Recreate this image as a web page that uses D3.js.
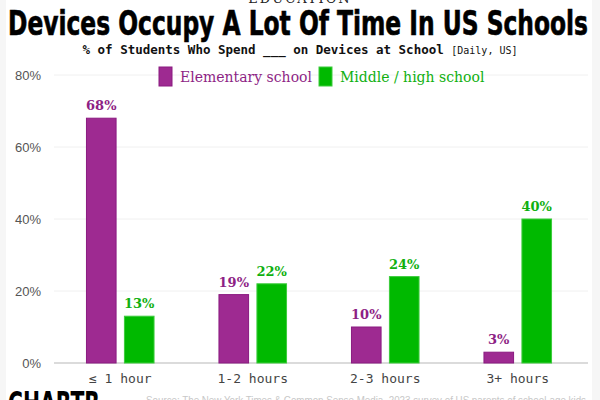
<!DOCTYPE html>
<html>
<head>
<meta charset="utf-8">
<script src="https://cdn.jsdelivr.net/npm/d3@7"></script>
<style>
  body { margin: 0; background: #f6f6f6; }
  svg { display: block; }
</style>
</head>
<body>
<svg id="chart" width="600" height="400"></svg>
<script>
// data
var categories = ["≤ 1 hour", "1-2 hours", "2-3 hours", "3+ hours"];
var seriesNames = ["Elementary school", "Middle / high school"];
var elementary = [68, 19, 10, 3];
var middleHigh = [13, 22, 24, 40];
var yTicks = [0, 20, 40, 60, 80];

var fills = ["#9e2a91", "#00b900"];
var strokes = ["#8a1a80", "#3ccc3c"];
var textCols = ["#8e1f85", "#10b010"];

var svg = d3.select("#chart");

// white panel, grey strips at the sides
svg.append("rect").attr("x", 6).attr("y", 0).attr("width", 586).attr("height", 400).attr("fill", "#fff");

// turn the columns into rows
var rows = categories.map(function(c, i){
    return {cat: c, vals: [elementary[i], middleHigh[i]]};
});

var x = d3.scaleBand().domain(categories).range([54, 584]).paddingInner(0.49).paddingOuter(0.245);
var x1 = d3.scaleBand().domain([0, 1]).range([0, x.bandwidth()]).paddingInner(0.22);
var y = d3.scaleLinear().domain([0, 80]).range([363, 75]);

// gridlines
svg.append("g").selectAll("line")
    .data(yTicks)
    .enter().append("line")
    .attr("x1", 54).attr("x2", 588)
    .attr("y1", function(d){ return y(d); })
    .attr("y2", function(d){ return y(d); })
    .attr("stroke", function(d){ return d == 0 ? "#cfcfcf" : "#f0f0f0"; })
    .attr("stroke-width", function(d){ return d == 0 ? 1.5 : 1; });

// y axis labels
var yAxis = d3.axisLeft(y).tickValues(yTicks).tickSize(0).tickPadding(0)
    .tickFormat(function(d){ return d + "%"; });
var gy = svg.append("g").attr("transform", "translate(41,0)").call(yAxis);
gy.select(".domain").remove();
gy.selectAll("text")
    .attr("font-family", "Liberation Sans, Arial, sans-serif")
    .attr("font-size", 13)
    .attr("fill", "#555");

// x axis labels
var xAxis = d3.axisBottom(x).tickSize(0).tickPadding(0);
var gx = svg.append("g").attr("transform", "translate(0,374)").call(xAxis);
gx.select(".domain").remove();
gx.selectAll("text")
    .attr("font-family", "DejaVu Sans Mono, monospace")
    .attr("font-size", 13)
    .attr("fill", "#444");

// bars
var groups = svg.append("g").selectAll(".grp")
    .data(rows)
    .enter().append("g")
    .attr("class", "grp")
    .attr("transform", function(d){ return "translate(" + x(d.cat) + ",0)"; });

groups.selectAll("rect")
    .data(function(d){ return d.vals; })
    .enter().append("rect")
    .attr("x", function(d, i){ return x1(i); })
    .attr("y", function(d){ return y(d); })
    .attr("width", x1.bandwidth())
    .attr("height", function(d){ return y(0) - y(d); })
    .attr("fill", function(d, i){ return fills[i]; })
    .attr("stroke", function(d, i){ return strokes[i]; })
    .attr("stroke-width", 1);

groups.selectAll("text")
    .data(function(d){ return d.vals; })
    .enter().append("text")
    .attr("x", function(d, i){ return x1(i) + x1.bandwidth() / 2; })
    .attr("y", function(d){ return y(d) - 8; })
    .attr("text-anchor", "middle")
    .attr("font-family", "DejaVu Serif, Georgia, serif")
    .attr("font-weight", "bold")
    .attr("font-size", 13)
    .attr("fill", function(d, i){ return textCols[i]; })
    .text(function(d){ return d + "%"; });

// legend
var legX = [159, 319];
var leg = svg.append("g").selectAll("g")
    .data(seriesNames)
    .enter().append("g")
    .attr("transform", function(d, i){ return "translate(" + legX[i] + ",67)"; });
leg.append("rect")
    .attr("width", 13).attr("height", 19)
    .attr("fill", function(d, i){ return fills[i]; })
    .attr("stroke", function(d, i){ return strokes[i]; });
leg.append("text")
    .attr("x", 21).attr("y", 15)
    .attr("font-family", "DejaVu Serif, Georgia, serif")
    .attr("font-size", 14)
    .attr("fill", function(d, i){ return textCols[i]; })
    .text(function(d){ return d; });

// titles
svg.append("text")
    .attr("x", 300).attr("y", 3)
    .attr("text-anchor", "middle")
    .attr("font-family", "DejaVu Serif, serif")
    .attr("font-size", 13)
    .attr("letter-spacing", 2)
    .attr("fill", "#222")
    .text("EDUCATION");

svg.append("text")
    .attr("x", 8).attr("y", 35)
    .attr("textLength", 580)
    .attr("lengthAdjust", "spacingAndGlyphs")
    .attr("font-family", "Liberation Sans Narrow, DejaVu Sans Condensed, Arial Narrow, sans-serif")
    .attr("font-weight", "bold")
    .attr("font-size", 33)
    .attr("stroke", "#000")
    .attr("stroke-width", 0.6)
    .attr("fill", "#000")
    .text("Devices Occupy A Lot Of Time In US Schools");

var sub = svg.append("text")
    .attr("x", 300).attr("y", 54)
    .attr("text-anchor", "middle")
    .attr("font-family", "DejaVu Sans Mono, monospace")
    .attr("fill", "#111");
sub.append("tspan")
    .attr("font-weight", "bold")
    .attr("font-size", 12.5)
    .text("% of Students Who Spend ___ on Devices at School ");
sub.append("tspan")
    .attr("font-size", 10)
    .text("[Daily, US]");

// footer
svg.append("text")
    .attr("x", 8).attr("y", 414)
    .attr("textLength", 92)
    .attr("lengthAdjust", "spacingAndGlyphs")
    .attr("font-family", "Liberation Sans Narrow, DejaVu Sans Condensed, sans-serif")
    .attr("font-weight", "bold")
    .attr("font-size", 32)
    .attr("fill", "#000")
    .text("CHARTR");

svg.append("text")
    .attr("x", 146).attr("y", 404)
    .attr("textLength", 440)
    .attr("lengthAdjust", "spacingAndGlyphs")
    .attr("font-family", "Liberation Sans, Arial, sans-serif")
    .attr("font-size", 10)
    .attr("fill", "#c8c8c8")
    .text("Source: The New York Times & Common Sense Media, 2023 survey of US parents of school-age kids");
</script>
</body>
</html>
